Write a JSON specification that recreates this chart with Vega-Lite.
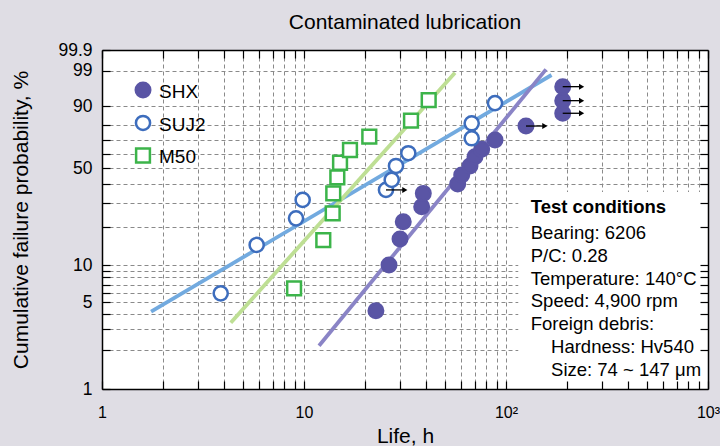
{
  "$schema": "https://vega.github.io/schema/vega-lite/v6.json",
  "width": 606,
  "height": 339,
  "autosize": {"type": "none"},
  "padding": {"left": 102, "top": 50, "right": 12, "bottom": 57},
  "background": "#dfdde4",
  "config": {
    "font": "Liberation Sans",
    "view": {"stroke": null, "fill": "#ffffff"}
  },
  "title": {"text": "Contaminated lubrication", "font": "Liberation Sans", "fontSize": 21, "fontWeight": "normal", "anchor": "middle", "offset": 8, "color": "#000000"},
  "data": {
    "values": [
      {"kind": "point", "series": "SHX", "life": 22.7, "p": 4.28, "susp": false},
      {"kind": "point", "series": "SHX", "life": 26.35, "p": 10.07, "susp": false},
      {"kind": "point", "series": "SHX", "life": 29.88, "p": 16.1, "susp": false},
      {"kind": "point", "series": "SHX", "life": 31.0, "p": 21.8, "susp": false},
      {"kind": "point", "series": "SHX", "life": 38.25, "p": 28.0, "susp": false},
      {"kind": "point", "series": "SHX", "life": 38.96, "p": 34.7, "susp": false},
      {"kind": "point", "series": "SHX", "life": 57.67, "p": 40.0, "susp": false},
      {"kind": "point", "series": "SHX", "life": 60.36, "p": 45.6, "susp": false},
      {"kind": "point", "series": "SHX", "life": 66.33, "p": 51.6, "susp": false},
      {"kind": "point", "series": "SHX", "life": 70.22, "p": 58.0, "susp": false},
      {"kind": "point", "series": "SHX", "life": 75.8, "p": 63.3, "susp": false},
      {"kind": "point", "series": "SHX", "life": 88.23, "p": 69.9, "susp": false},
      {"kind": "point", "series": "SHX", "life": 125.6, "p": 79.3, "susp": true},
      {"kind": "point", "series": "SHX", "life": 190.9, "p": 86.7, "susp": true},
      {"kind": "point", "series": "SHX", "life": 190.9, "p": 92.4, "susp": true},
      {"kind": "point", "series": "SHX", "life": 190.9, "p": 96.6, "susp": true},
      {"kind": "point", "series": "SUJ2", "life": 3.87, "p": 5.94, "susp": false},
      {"kind": "point", "series": "SUJ2", "life": 5.83, "p": 14.5, "susp": false},
      {"kind": "point", "series": "SUJ2", "life": 9.13, "p": 23.1, "susp": false},
      {"kind": "point", "series": "SUJ2", "life": 9.85, "p": 31.3, "susp": false},
      {"kind": "point", "series": "SUJ2", "life": 25.46, "p": 36.6, "susp": true},
      {"kind": "point", "series": "SUJ2", "life": 27.18, "p": 42.5, "susp": false},
      {"kind": "point", "series": "SUJ2", "life": 28.54, "p": 51.6, "susp": false},
      {"kind": "point", "series": "SUJ2", "life": 32.84, "p": 60.5, "susp": false},
      {"kind": "point", "series": "SUJ2", "life": 67.63, "p": 71.1, "susp": false},
      {"kind": "point", "series": "SUJ2", "life": 67.63, "p": 81.0, "susp": false},
      {"kind": "point", "series": "SUJ2", "life": 88.23, "p": 91.4, "susp": false},
      {"kind": "point", "series": "M50", "life": 8.93, "p": 6.53, "susp": false},
      {"kind": "point", "series": "M50", "life": 12.46, "p": 15.8, "susp": false},
      {"kind": "point", "series": "M50", "life": 13.87, "p": 25.1, "susp": false},
      {"kind": "point", "series": "M50", "life": 13.96, "p": 34.7, "susp": false},
      {"kind": "point", "series": "M50", "life": 14.62, "p": 44.1, "susp": false},
      {"kind": "point", "series": "M50", "life": 15.08, "p": 53.8, "susp": false},
      {"kind": "point", "series": "M50", "life": 16.89, "p": 62.8, "susp": false},
      {"kind": "point", "series": "M50", "life": 21.05, "p": 72.2, "susp": false},
      {"kind": "point", "series": "M50", "life": 33.86, "p": 82.6, "susp": false},
      {"kind": "point", "series": "M50", "life": 41.43, "p": 92.6, "susp": false},
      {"kind": "legend", "series": "SHX", "life": 1.596, "p": 95.8, "susp": false},
      {"kind": "legend", "series": "SUJ2", "life": 1.596, "p": 81.2, "susp": false},
      {"kind": "legend", "series": "M50", "life": 1.596, "p": 58.9, "susp": false},
      {"kind": "fit", "series": "SUJ2", "life": 1.75, "p": 4.2},
      {"kind": "fit", "series": "SUJ2", "life": 168, "p": 98.56},
      {"kind": "fit", "series": "M50", "life": 4.34, "p": 3.4},
      {"kind": "fit", "series": "M50", "life": 55.9, "p": 98.81},
      {"kind": "fit", "series": "SHX", "life": 11.87, "p": 2.19},
      {"kind": "fit", "series": "SHX", "life": 157.8, "p": 99.12},
      {"kind": "box", "life": 115, "life2": 1000, "p": 35.5, "p2": 0.96},
      {"kind": "note_title", "life": 132.6, "p": 25.13},
      {"kind": "note_body", "life": 132.6, "p": 15.98},
      {"kind": "note_indent", "life": 167.1, "p": 1.905}
    ]
  },
  "transform": [
    {"calculate": "log(-log(1 - datum.p/100))", "as": "w"},
    {"calculate": "isValid(datum.p2) ? log(-log(1 - datum.p2/100)) : null", "as": "w2"}
  ],
  "encoding": {
    "x": {"field": "life", "type": "quantitative", "scale": {"type": "log", "domain": [1, 1000], "nice": false}, "axis": null},
    "y": {"field": "w", "type": "quantitative", "scale": {"domain": [-4.65, 1.93], "nice": false, "zero": false}, "axis": null}
  },
  "layer": [
    {
      "transform": [{"filter": "datum.kind === 'box'"}],
      "mark": {"type": "rect", "fill": "#ffffff", "stroke": null},
      "encoding": {
        "x": {"field": "life", "type": "quantitative", "scale": {"type": "log", "domain": [1, 1000], "nice": false},
          "axis": {"orient": "bottom", "values": [2,3,4,5,6,7,8,9,10,20,30,40,50,60,70,80,90,100,200,300,400,500,600,700,800,900], "grid": true, "gridDash": [4, 3], "gridColor": "#8a8a8a", "gridWidth": 1, "ticks": false, "labels": false, "domain": false, "title": null, "zindex": 0}},
        "x2": {"field": "life2"},
        "y": {"field": "w", "type": "quantitative", "scale": {"domain": [-4.65, 1.93], "nice": false, "zero": false},
          "axis": {"orient": "left", "values": [-3.901939,-3.491366,-3.198534,-2.970195,-2.782661,-2.623227,-2.484352,-2.361183,-2.250367,-1.49994,-1.03093,-0.67162,-0.366513,-0.087422,0.185627,0.475885,0.834032,1.52718], "grid": true, "gridDash": [4, 3], "gridColor": "#8a8a8a", "gridWidth": 1, "ticks": false, "labels": false, "domain": false, "title": null, "zindex": 0}},
        "y2": {"field": "w2"}
      }
    },
    {
      "transform": [{"filter": "datum.kind === 'fit'"}],
      "mark": {"type": "line", "strokeWidth": 3.8, "strokeCap": "butt"},
      "encoding": {
        "color": {"field": "series", "type": "nominal", "scale": {"domain": ["SHX", "SUJ2", "M50"], "range": ["#8a84c6", "#72aadf", "#bedf94"]}, "legend": null}
      }
    },
    {
      "transform": [{"filter": "datum.kind === 'point' || datum.kind === 'legend'"}],
      "mark": {"type": "point", "filled": true, "strokeWidth": 2.5, "opacity": 1},
      "encoding": {
        "x": {"field": "life", "type": "quantitative", "scale": {"type": "log", "domain": [1, 1000], "nice": false},
          "axis": {"orient": "bottom", "values": [1,2,3,4,5,6,7,8,9,10,20,30,40,50,60,70,80,90,100,200,300,400,500,600,700,800,900,1000], "grid": false, "ticks": true, "tickSize": -8, "tickColor": "#000000", "tickWidth": 1.2, "domain": true, "domainColor": "#000000", "domainWidth": 1.5, "labelExpr": "datum.value === 1 ? '1' : datum.value === 10 ? '10' : datum.value === 100 ? '10²' : datum.value === 1000 ? '10³' : ''", "labelFont": "Liberation Sans", "labelFontSize": 16, "labelColor": "#000000", "labelPadding": 23, "labelFlush": false, "labelOverlap": false, "title": "Life, h", "titleFont": "Liberation Sans", "titleFontSize": 21, "titleFontWeight": "normal", "titleColor": "#000000", "titlePadding": 5, "zindex": 1}},
        "y": {"field": "w", "type": "quantitative", "scale": {"domain": [-4.65, 1.93], "nice": false, "zero": false},
          "axis": {"orient": "left", "values": [-4.65,-3.901939,-3.491366,-3.198534,-2.970195,-2.782661,-2.623227,-2.484352,-2.361183,-2.250367,-1.49994,-1.03093,-0.67162,-0.366513,-0.087422,0.185627,0.475885,0.834032,1.52718,1.93], "grid": false, "ticks": true, "tickSize": -8, "tickColor": "#000000", "tickWidth": 1.2, "domain": true, "domainColor": "#000000", "domainWidth": 1.5, "labelExpr": "indexof([1,5,10,50,90,99,99.9], round(1000*(1-exp(-exp(datum.value))))/10) >= 0 ? '' + round(1000*(1-exp(-exp(datum.value))))/10 : ''", "labelFont": "Liberation Sans", "labelFontSize": 17.5, "labelColor": "#000000", "labelPadding": 18, "labelFlush": false, "labelOverlap": false, "title": "Cumulative failure probability, %", "titleFont": "Liberation Sans", "titleFontSize": 21, "titleFontWeight": "normal", "titleColor": "#000000", "titlePadding": 26, "zindex": 1}},
        "fill": {"field": "series", "type": "nominal", "scale": {"domain": ["SHX", "SUJ2", "M50"], "range": ["#5a55a5", "#ffffff", "#ffffff"]}, "legend": null},
        "stroke": {"field": "series", "type": "nominal", "scale": {"domain": ["SHX", "SUJ2", "M50"], "range": ["#5a55a5", "#3d6dbd", "#3cb44a"]}, "legend": null},
        "shape": {"field": "series", "type": "nominal", "scale": {"domain": ["SHX", "SUJ2", "M50"], "range": ["circle", "circle", "square"]}, "legend": null},
        "size": {"field": "series", "type": "nominal", "scale": {"domain": ["SHX", "SUJ2", "M50"], "range": [210, 190, 165]}, "legend": null}
      }
    },
    {
      "transform": [{"filter": "datum.kind === 'legend'"}],
      "mark": {"type": "text", "align": "left", "baseline": "middle", "dx": 16, "dy": 2, "fontSize": 19, "color": "#000000"},
      "encoding": {"text": {"field": "series", "type": "nominal"}}
    },
    {
      "transform": [{"filter": "datum.kind === 'point' && datum.susp"}, {"calculate": "datum.life * 1.24", "as": "end"}],
      "mark": {"type": "rule", "color": "#000000", "strokeWidth": 1.3},
      "encoding": {
        "x": {"field": "life", "type": "quantitative", "scale": {"type": "log", "domain": [1, 1000], "nice": false},
          "axis": {"orient": "top", "values": [1,2,3,4,5,6,7,8,9,10,20,30,40,50,60,70,80,90,100,200,300,400,500,600,700,800,900,1000], "grid": false, "ticks": true, "tickSize": -8, "tickColor": "#000000", "tickWidth": 1.2, "domain": true, "domainColor": "#000000", "domainWidth": 1.5, "labels": false, "title": null, "zindex": 1}},
        "x2": {"field": "end"},
        "y": {"field": "w", "type": "quantitative", "scale": {"domain": [-4.65, 1.93], "nice": false, "zero": false},
          "axis": {"orient": "right", "values": [-3.901939,-3.491366,-3.198534,-2.970195,-2.782661,-2.623227,-2.484352,-2.361183,-2.250367,-1.49994,-1.03093,-0.67162,-0.366513,-0.087422,0.185627,0.475885,0.834032,1.52718], "grid": false, "ticks": true, "tickSize": -8, "tickColor": "#000000", "tickWidth": 1.2, "domain": true, "domainColor": "#000000", "domainWidth": 1.5, "labels": false, "title": null, "zindex": 1}}
      }
    },
    {
      "transform": [{"filter": "datum.kind === 'point' && datum.susp"}, {"calculate": "datum.life * 1.24", "as": "head"}],
      "mark": {"type": "point", "shape": "triangle-right", "filled": true, "color": "#000000", "size": 36, "opacity": 1},
      "encoding": {
        "x": {"field": "head", "type": "quantitative", "scale": {"type": "log", "domain": [1, 1000], "nice": false}, "axis": null}
      }
    },
    {
      "transform": [{"filter": "datum.kind === 'note_title'"}],
      "mark": {"type": "text", "text": "Test conditions", "align": "left", "baseline": "alphabetic", "fontSize": 18.5, "fontWeight": "bold", "color": "#000000"}
    },
    {
      "transform": [{"filter": "datum.kind === 'note_body'"}],
      "mark": {"type": "text", "text": ["Bearing: 6206", "P/C: 0.28", "Temperature: 140°C", "Speed: 4,900 rpm", "Foreign debris:"], "align": "left", "baseline": "alphabetic", "fontSize": 18.5, "lineHeight": 22.6, "color": "#000000"}
    },
    {
      "transform": [{"filter": "datum.kind === 'note_indent'"}],
      "mark": {"type": "text", "text": ["Hardness: Hv540", "Size: 74 ~ 147 μm"], "align": "left", "baseline": "alphabetic", "fontSize": 18.5, "lineHeight": 22.6, "color": "#000000"}
    }
  ],
  "resolve": {"axis": {"x": "independent", "y": "independent"}}
}
